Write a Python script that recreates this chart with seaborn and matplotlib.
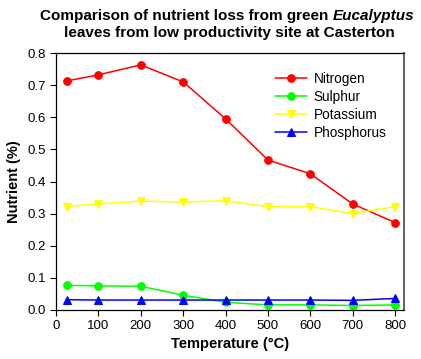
import matplotlib
matplotlib.use("Agg")
import matplotlib.pyplot as plt
import seaborn as sns
import pandas as pd

temperature = [25, 100, 200, 300, 400, 500, 600, 700, 800]
nitrogen = [0.713, 0.732, 0.763, 0.710, 0.595, 0.467, 0.424, 0.330, 0.272]
sulphur = [0.077, 0.075, 0.074, 0.046, 0.024, 0.016, 0.016, 0.014, 0.016]
potassium = [0.322, 0.330, 0.339, 0.336, 0.340, 0.322, 0.322, 0.300, 0.322]
phosphorus = [0.032, 0.031, 0.031, 0.031, 0.031, 0.031, 0.031, 0.030, 0.036]
x_ticks = [0, 100, 200, 300, 400, 500, 600, 700, 800]
y_ticks = [0.0, 0.1, 0.2, 0.3, 0.4, 0.5, 0.6, 0.7, 0.8]

sns.set_theme(style="ticks")
plt.rcParams['font.family'] = ['Liberation Sans', 'DejaVu Sans']
for k in ['text.color', 'axes.labelcolor', 'xtick.color', 'ytick.color']:
    plt.rcParams[k] = 'black'

series = [
    ("Nitrogen", nitrogen, "#ff0000", "o"),
    ("Sulphur", sulphur, "#00ff00", "o"),
    ("Potassium", potassium, "#ffff00", "v"),
    ("Phosphorus", phosphorus, "#0000ff", "^"),
]

fig = plt.figure(figsize=(4.21, 3.59), dpi=100)
ax = fig.add_axes([56/421, 1-310/359, (404-56)/421, (310-53)/359])

for name, vals, col, mk in series:
    df = pd.DataFrame({"Temperature": temperature, "Value": vals})
    sns.lineplot(data=df, x="Temperature", y="Value", ax=ax, color=col, marker=mk,
                 markersize=5.5, markeredgecolor=col, linewidth=1.1,
                 label=name)

ax.set_xlim(0, 821)
ax.set_ylim(0, 0.8)
ax.set_xticks(x_ticks)
ax.set_xticklabels([str(t) for t in x_ticks], fontsize=9.5)
ax.set_yticks(y_ticks)
ax.set_yticklabels([f"{t:.1f}" for t in y_ticks], fontsize=9.5)
ax.tick_params(direction="out", length=4, width=0.8, colors="black", pad=3)
for s in ax.spines.values():
    s.set_visible(True)
    s.set_color("black")
    s.set_linewidth(0.9)
ax.spines['right'].set_color("#555555")
ax.spines['right'].set_linewidth(1.3)

ax.set_xlabel("Temperature (°C)", fontsize=10.5, fontweight="bold", labelpad=4)
ax.set_ylabel("Nutrient (%)", fontsize=10.5, fontweight="bold", labelpad=5)

leg = ax.legend(loc="upper left", bbox_to_anchor=(0.594, 0.975), frameon=False, fontsize=9.8,
                handlelength=2.35, labelspacing=0.3, handletextpad=0.5)

# Title with italic part
fig.canvas.draw()
r = fig.canvas.get_renderer()
fs = 11
p1 = "Comparison of nutrient loss from green "
p2 = "Eucalyptus"
t1 = fig.text(0, 0, p1, fontsize=fs, fontweight="bold")
t2 = fig.text(0, 0, p2, fontsize=fs, fontweight="bold", style="italic")
w1 = t1.get_window_extent(r).width
w2 = t2.get_window_extent(r).width
cx = 227
x0 = cx - (w1 + w2) / 2
y1 = 1 - 20/359
t1.set_position((x0/421, y1))
t2.set_position(((x0 + w1)/421, y1))
fig.text(229/421, 1 - 37/359, "leaves from low productivity site at Casterton",
         fontsize=fs, fontweight="bold", ha="center")

fig.savefig("out.png", dpi=100)
